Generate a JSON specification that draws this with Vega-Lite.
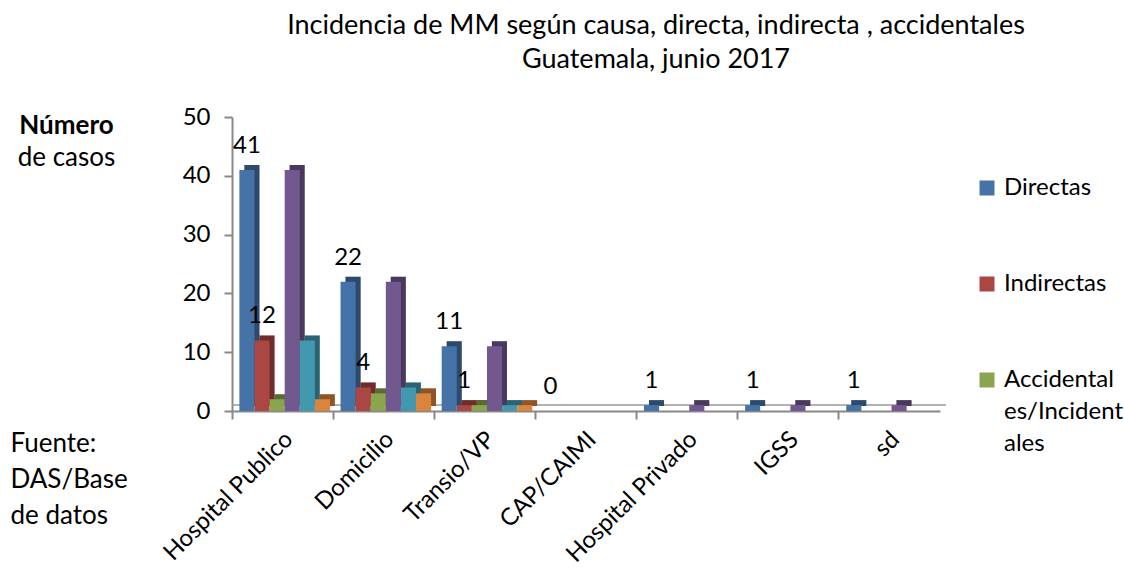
{
  "$schema": "https://vega.github.io/schema/vega-lite/v6.json",
  "width": 708,
  "height": 294,
  "autosize": "none",
  "padding": {"left": 232, "top": 117, "right": 184, "bottom": 158},
  "background": "white",
  "config": {
    "font": "Lato",
    "view": {"stroke": null},
    "text": {"font": "Lato"},
    "style": {"guide-label": {"lineHeight": 32}}
  },
  "title": {
    "text": ["Incidencia de MM según causa, directa, indirecta , accidentales", "Guatemala, junio 2017"],
    "fontSize": 27,
    "fontWeight": "normal",
    "lineHeight": 34,
    "anchor": "middle",
    "dx": 70,
    "offset": 31,
    "color": "black"
  },
  "datasets": {
    "casos": [
      {"cat": "Hospital Publico", "serie": "Directas", "value": 41},
      {"cat": "Hospital Publico", "serie": "Indirectas", "value": 12},
      {"cat": "Hospital Publico", "serie": "Accidentales/Incidentales", "value": 2},
      {"cat": "Hospital Publico", "serie": "Serie 4", "value": 41},
      {"cat": "Hospital Publico", "serie": "Serie 5", "value": 12},
      {"cat": "Hospital Publico", "serie": "Serie 6", "value": 2},
      {"cat": "Domicilio", "serie": "Directas", "value": 22},
      {"cat": "Domicilio", "serie": "Indirectas", "value": 4},
      {"cat": "Domicilio", "serie": "Accidentales/Incidentales", "value": 3},
      {"cat": "Domicilio", "serie": "Serie 4", "value": 22},
      {"cat": "Domicilio", "serie": "Serie 5", "value": 4},
      {"cat": "Domicilio", "serie": "Serie 6", "value": 3},
      {"cat": "Transio/VP", "serie": "Directas", "value": 11},
      {"cat": "Transio/VP", "serie": "Indirectas", "value": 1},
      {"cat": "Transio/VP", "serie": "Accidentales/Incidentales", "value": 1},
      {"cat": "Transio/VP", "serie": "Serie 4", "value": 11},
      {"cat": "Transio/VP", "serie": "Serie 5", "value": 1},
      {"cat": "Transio/VP", "serie": "Serie 6", "value": 1},
      {"cat": "CAP/CAIMI", "serie": "Directas", "value": 0},
      {"cat": "CAP/CAIMI", "serie": "Serie 4", "value": 0},
      {"cat": "Hospital Privado", "serie": "Directas", "value": 1},
      {"cat": "Hospital Privado", "serie": "Serie 4", "value": 1},
      {"cat": "IGSS", "serie": "Directas", "value": 1},
      {"cat": "IGSS", "serie": "Serie 4", "value": 1},
      {"cat": "sd", "serie": "Directas", "value": 1},
      {"cat": "sd", "serie": "Serie 4", "value": 1}
    ],
    "piso": [{"nivel": 0}]
  },
  "data": {"name": "casos"},
  "layer": [
    {
      "data": {"name": "piso"},
      "mark": {"type": "rule", "color": "#9a9a9a", "strokeWidth": 1.5, "xOffset": 6, "yOffset": -6},
      "encoding": {
        "y": {"field": "nivel", "type": "quantitative", "scale": {"domain": [0, 50]}, "axis": null}
      }
    },
    {
      "mark": {"type": "bar", "yOffset": -5},
      "encoding": {
        "x": {
          "field": "cat",
          "type": "nominal",
          "sort": ["Hospital Publico", "Domicilio", "Transio/VP", "CAP/CAIMI", "Hospital Privado", "IGSS", "sd"],
          "scale": {"paddingInner": 0, "paddingOuter": 0},
          "axis": {
            "title": ["Fuente:", "DAS/Base", "de datos"],
            "titleAngle": 0,
            "titleAlign": "left",
            "titleBaseline": "top",
            "titleX": -222,
            "titleY": 19,
            "titleFontSize": 26,
            "titleFontWeight": "normal",
            "titleLineHeight": 36,
            "titleColor": "black",
            "labelAngle": -45,
            "labelAlign": "right",
            "labelBaseline": "top",
            "labelFontSize": 24,
            "labelColor": "black",
            "labelLimit": 300,
            "bandPosition": 0,
            "labelOffset": -2,
            "labelPadding": 8,
            "tickColor": "#888888",
            "domainColor": "#888888",
            "domainWidth": 2,
            "tickWidth": 2,
            "tickSize": 8
          }
        },
        "xOffset": {
          "field": "serie",
          "scale": {"domain": ["Directas", "Indirectas", "Accidentales/Incidentales", "Serie 4", "Serie 5", "Serie 6"], "paddingInner": 0, "paddingOuter": 0.35, "align": 0.7, "range": [5, 106]}
        },
        "y": {"field": "value", "type": "quantitative", "scale": {"domain": [0, 50]}, "axis": null},
        "color": {
          "field": "serie",
          "type": "nominal",
          "scale": {
            "domain": ["Directas", "Indirectas", "Accidentales/Incidentales", "Serie 4", "Serie 5", "Serie 6"],
            "range": ["#4572A7", "#AA4643", "#89A54E", "#71588F", "#4198AF", "#DB843D"]
          },
          "legend": {
            "values": ["Directas", "Indirectas", "Accidentales/Incidentales"],
            "orient": "none",
            "legendX": 743,
            "legendY": 59,
            "title": null,
            "symbolType": "square",
            "symbolSize": 225,
            "symbolStrokeWidth": 0,
            "labelFontSize": 24,
            "labelColor": "black",
            "labelLimit": 300,
            "labelOffset": 5,
            "rowPadding": 72,
            "labelBaseline": "middle",
            "labelExpr": "datum.label == 'Accidentales/Incidentales' ? ['Accidental', 'es/Incident', 'ales'] : datum.label"
          }
        }
      }
    },
    {
      "mark": {"type": "bar", "yOffset": -5, "color": "black", "opacity": 0.35},
      "encoding": {
        "x": {"field": "cat", "type": "nominal", "sort": ["Hospital Publico", "Domicilio", "Transio/VP", "CAP/CAIMI", "Hospital Privado", "IGSS", "sd"]},
        "xOffset": {
          "field": "serie",
          "scale": {"domain": ["Directas", "Indirectas", "Accidentales/Incidentales", "Serie 4", "Serie 5", "Serie 6"], "paddingInner": 0, "paddingOuter": 0.35, "align": 0.7, "range": [5, 106]}
        },
        "y": {"field": "value", "type": "quantitative", "scale": {"domain": [0, 50]}, "axis": null}
      }
    },
    {
      "mark": {"type": "bar"},
      "encoding": {
        "x": {"field": "cat", "type": "nominal", "sort": ["Hospital Publico", "Domicilio", "Transio/VP", "CAP/CAIMI", "Hospital Privado", "IGSS", "sd"]},
        "xOffset": {
          "field": "serie",
          "scale": {"domain": ["Directas", "Indirectas", "Accidentales/Incidentales", "Serie 4", "Serie 5", "Serie 6"], "paddingInner": 0, "paddingOuter": 0.35, "align": 0.7}
        },
        "y": {
          "field": "value",
          "type": "quantitative",
          "scale": {"domain": [0, 50]},
          "axis": {
            "values": [0, 10, 20, 30, 40, 50],
            "title": "Número",
            "titleFontWeight": "bold",
            "titleAngle": 0,
            "titleAlign": "center",
            "titleBaseline": "middle",
            "titleX": -166,
            "titleY": 8,
            "titleFontSize": 26,
            "titleColor": "black",
            "labelFontSize": 24,
            "labelColor": "black",
            "grid": false,
            "domainColor": "#888888",
            "tickColor": "#888888",
            "domainWidth": 2,
            "tickWidth": 2,
            "tickSize": 8,
            "labelPadding": 14
          }
        },
        "color": {
          "field": "serie",
          "type": "nominal",
          "legend": {
            "values": ["Directas", "Indirectas", "Accidentales/Incidentales"],
            "orient": "none",
            "legendX": 743,
            "legendY": 59,
            "title": null,
            "symbolType": "square",
            "symbolSize": 225,
            "symbolStrokeWidth": 0,
            "labelFontSize": 24,
            "labelColor": "black",
            "labelLimit": 300,
            "labelOffset": 5,
            "rowPadding": 72,
            "labelBaseline": "middle",
            "labelExpr": "datum.label == 'Accidentales/Incidentales' ? ['Accidental', 'es/Incident', 'ales'] : datum.label"
          }
        }
      }
    },
    {
      "transform": [{"filter": "datum.serie == 'Directas' || datum.serie == 'Indirectas'"}],
      "mark": {"type": "text", "fontSize": 24, "baseline": "alphabetic", "dy": -17, "color": "black"},
      "encoding": {
        "x": {"field": "cat", "type": "nominal", "sort": ["Hospital Publico", "Domicilio", "Transio/VP", "CAP/CAIMI", "Hospital Privado", "IGSS", "sd"]},
        "xOffset": {
          "field": "serie",
          "scale": {"type": "band", "domain": ["Directas", "Indirectas", "Accidentales/Incidentales", "Serie 4", "Serie 5", "Serie 6"], "paddingInner": 0, "paddingOuter": 0.35, "align": 0.7}
        },
        "text": {"field": "value", "type": "quantitative"},
        "y": {
          "field": "value",
          "type": "quantitative",
          "scale": {"domain": [0, 50]},
          "axis": {
            "orient": "left",
            "title": "de casos",
            "labels": false,
            "ticks": false,
            "domain": false,
            "grid": false,
            "titleAngle": 0,
            "titleAlign": "center",
            "titleBaseline": "middle",
            "titleX": -166,
            "titleY": 40,
            "titleFontSize": 26,
            "titleFontWeight": "normal",
            "titleColor": "black"
          }
        }
      }
    }
  ],
  "resolve": {"axis": {"y": "independent"}, "scale": {"xOffset": "independent"}}
}
